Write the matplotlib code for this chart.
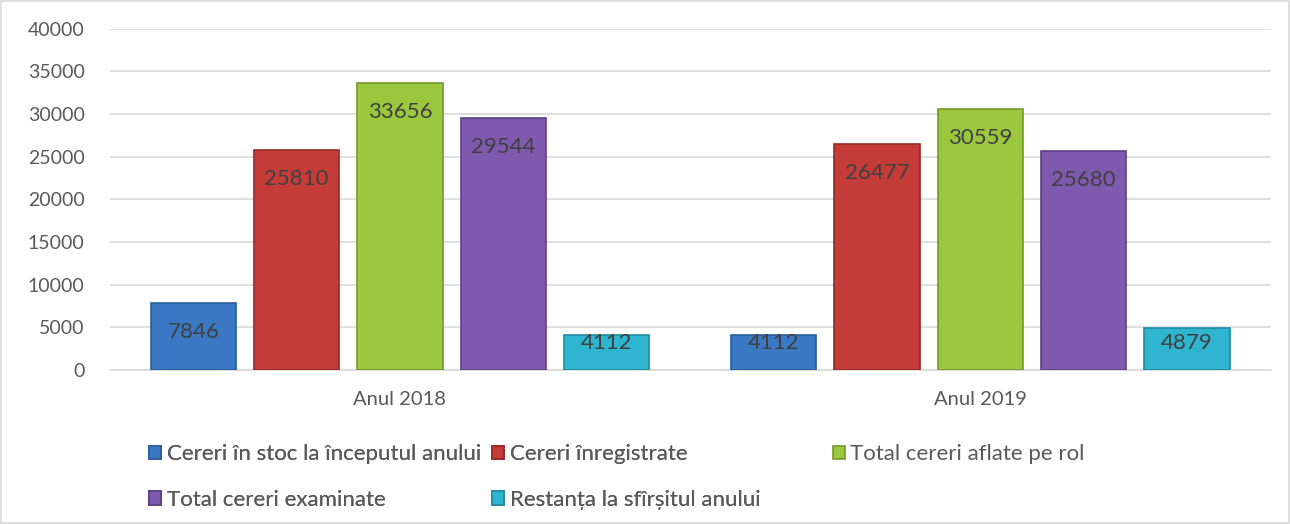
import matplotlib
matplotlib.use("Agg")
import matplotlib.pyplot as plt
import numpy as np

plt.rcParams.update({
    "font.family": ["Lato", "DejaVu Sans"],
    "font.size": 11,
    "text.color": "#595959",
    "axes.edgecolor": "#d9d9d9",
})

years = ["Anul 2018", "Anul 2019"]
series = [
    "Cereri în stoc la începutul anului",
    "Cereri înregistrate",
    "Total cereri aflate pe rol",
    "Total cereri examinate",
    "Restanța la sfîrșitul anului",
]
values = [
    [7846, 4112],
    [25810, 26477],
    [33656, 30559],
    [29544, 25680],
    [4112, 4879],
]
colors = ["#3a78c3", "#c43b37", "#9bc73e", "#7e59ae", "#2fb5cf"]
edges = ["#2a5c99", "#952a27", "#74992b", "#5c3f85", "#1f8ba0"]

fig = plt.figure(figsize=(12.9, 5.24), dpi=100)
ax = fig.add_axes([0.085, 0.294, 0.900, 0.651])

x = np.arange(len(years))
width = 0.147
step = 0.178
handles = []
for i, (name, vals) in enumerate(zip(series, values)):
    pos = x + (i - 2) * step
    bars = ax.bar(pos, vals, width, color=colors[i], edgecolor=edges[i],
                  linewidth=1.2, zorder=3, label=name)
    handles.append(bars)
    for b, v in zip(bars, vals):
        # label sits near the top, but stays inside short bars
        ax.text(b.get_x() + b.get_width() / 2, max(v - 3400, 3150), f"{v}",
                ha="center", va="center", fontsize=16, color="#404040", zorder=4)

ax.set_xlim(-0.5, 1.5)
ax.set_ylim(0, 40000)
ax.set_yticks(np.arange(0, 40001, 5000))
ax.set_xticks(x)
ax.set_xticklabels(years, fontsize=14.5)
ax.tick_params(axis="y", labelsize=14, length=0, pad=18, labelcolor="#595959")
ax.tick_params(axis="x", length=0, pad=15, labelcolor="#595959")
ax.grid(axis="y", color="#d9d9d9", linewidth=1.2, zorder=0)
for s in ["top", "right", "left"]:
    ax.spines[s].set_visible(False)
ax.spines["bottom"].set_color("#d9d9d9")
ax.spines["bottom"].set_linewidth(1.2)

leg_kw = dict(loc="upper left", frameon=False, fontsize=16,
              handlelength=0.55, handleheight=0.55, handletextpad=0.25,
              columnspacing=0.5, labelspacing=1.15, labelcolor="#595959")
order = [0, 3, 1, 4]
leg1 = fig.legend([handles[k] for k in order], [series[k] for k in order],
                  ncol=2, bbox_to_anchor=(0.100, 0.19), **leg_kw)
fig.legend([handles[2]], [series[2]], ncol=1,
           bbox_to_anchor=(0.630, 0.19), **leg_kw)
fig.add_artist(leg1)

fig.patches.append(plt.Rectangle((0.001, 0.002), 0.998, 0.996,
                                 transform=fig.transFigure, fill=False,
                                 edgecolor="#d9d9d9", linewidth=1.2))

fig.savefig("out.png", dpi=100)
